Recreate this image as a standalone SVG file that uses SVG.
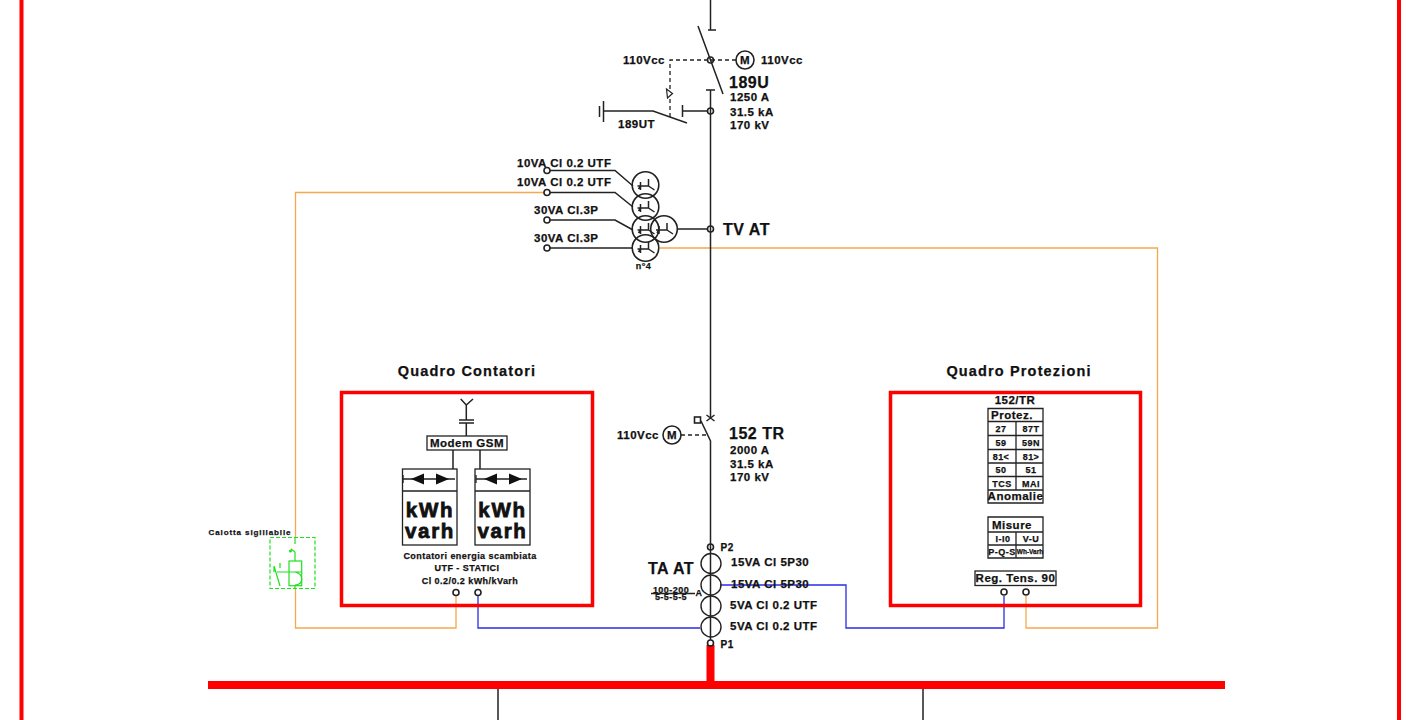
<svg xmlns="http://www.w3.org/2000/svg" width="1409" height="720" viewBox="0 0 1409 720">
<style>
text{font-family:"Liberation Sans",Arial,sans-serif;font-weight:bold;fill:#111;stroke:#111;stroke-width:.25;letter-spacing:.5px}
.m{text-anchor:middle}
.f8{font-size:8px;letter-spacing:.9px}.f9{font-size:9px;letter-spacing:.45px}.f11{font-size:11.5px}.f14{font-size:14.500px;letter-spacing:1.150px}.f16{font-size:16px}
.k{font-size:20.500px;letter-spacing:1.700px;stroke-width:.8}
.l{fill:none;stroke:#222;stroke-width:1.5}
.d{fill:none;stroke:#222;stroke-width:1.3;stroke-dasharray:4 3}
.c{fill:none;stroke:#222;stroke-width:1.6}
.n{fill:none;stroke:#222;stroke-width:1.4}
.t{fill:none;stroke:#222;stroke-width:1.3}
.b{fill:#fff;stroke:#222;stroke-width:1.3}
.o{fill:none;stroke:#f5a84e;stroke-width:1.3}
.u{fill:none;stroke:#2b2be8;stroke-width:1.3}
.r{fill:none;stroke:#f00;stroke-width:3.5}
.g{fill:none;stroke:#1fe01f;stroke-width:1.2}
</style>
<defs>
<path id="star" class="l" d="M-8 1H3M-5 -3V5M-5 1L-7 4M3 1V-6M3 1L9 5"/>
</defs>
<g id="frame"><path d="M21.500 0V720M1399 0V720" fill="none" stroke="#f00" stroke-width="4"/></g>
<g id="connectors">
<path class="o" d="M544 192.500H295.500V537M295.500 589V628H456V596M660 248H1157.500V628H1026V596"/>
<path class="u" d="M478 596V628H700M720 585H846V628H1004V596"/>
<path class="l" d="M710.500 0V30M708 30H716M710.500 90V417M706 90H715M710.500 448V640M707 111H683M682.500 105V117M677 229H707"/>
<path class="l" d="M698 26L723 94M604 111H653L687 123M603.500 101V122M599.500 106V117"/>
<path class="d" d="M670 117V60H736"/>
<path class="l" d="M550 170.500H615L633 186M550 192.500H615L633 207M550 220H615L633 230M550 248H632"/>
<path class="l" d="M701 421L710.500 441V448M706.500 415L714.500 421M714.500 415L706.500 421"/>
<path class="d" d="M681 435H706"/>
<path class="l" d="M498 689V720M923 689V720"/>
<path class="l" d="M466.300 405L460.700 399M466.300 405L473 399M466.300 405V420M459 420H474M459 423H474M466.300 423V436M453 450V469M480 450V469"/>
</g>
<g id="busbar"><path d="M208 685H1225M710.500 645V685" fill="none" stroke="#f00" stroke-width="8"/></g>
<g id="sw189U">
<circle class="c" cx="710.500" cy="60" r="3"/><circle class="c" cx="710.500" cy="111" r="3"/>
<path d="M666.500 89L672.500 93.500L667.500 98Z" fill="#fff" stroke="#222" stroke-width="1.2"/>
<circle class="c" cx="745" cy="60" r="9"/><text class="f11 m" x="745" y="64">M</text>
<text class="f11" x="623" y="63.500">110Vcc</text><text class="f11" x="761" y="63.500">110Vcc</text>
<text class="f16" x="729" y="87.500">189U</text>
<text class="f11" x="730" y="101">1250 A</text><text class="f11" x="730" y="116">31.5 kA</text><text class="f11" x="730" y="129">170 kV</text>
<text class="f11" x="618" y="128">189UT</text>
</g>
<g id="tvat">
<circle class="c" cx="645.500" cy="185" r="13.300"/><use href="#star" x="645.500" y="185"/>
<circle class="c" cx="645.500" cy="207" r="13.300"/><use href="#star" x="645.500" y="207"/>
<circle class="c" cx="645.500" cy="229" r="13.300"/><use href="#star" x="645.500" y="229"/>
<circle class="c" cx="664" cy="229" r="13.300"/><use href="#star" x="664" y="229"/>
<circle class="c" cx="645.500" cy="248" r="13.300"/><use href="#star" x="645.500" y="248"/>
<circle class="c" cx="547" cy="170.500" r="3"/><circle class="c" cx="547" cy="192.500" r="3"/><circle class="c" cx="547" cy="220" r="3"/><circle class="c" cx="547" cy="248" r="3"/>
<circle class="c" cx="710.500" cy="229" r="3"/>
<text class="f11" x="517" y="167">10VA Cl 0.2 UTF</text><text class="f11" x="517" y="186">10VA Cl 0.2 UTF</text>
<text class="f11" x="534" y="214">30VA Cl.3P</text><text class="f11" x="534" y="242">30VA Cl.3P</text>
<text class="f9 m" x="643.500" y="269">n°4</text>
<text class="f16" x="723" y="235">TV AT</text>
</g>
<g id="sw152TR">
<rect class="c" x="694.500" y="417" width="6" height="6"/>
<circle class="c" cx="672" cy="435" r="9"/><text class="f11 m" x="672" y="439">M</text>
<text class="f11" x="617" y="439">110Vcc</text>
<text class="f16" x="729" y="439">152 TR</text>
<text class="f11" x="730" y="454">2000 A</text><text class="f11" x="730" y="468">31.5 kA</text><text class="f11" x="730" y="481">170 kV</text>
</g>
<g id="taat">
<circle class="c" cx="710.500" cy="547" r="3"/><circle class="c" cx="710.500" cy="643" r="3"/>
<circle class="n" cx="711" cy="563.500" r="10"/><circle class="n" cx="711" cy="585" r="10"/><circle class="n" cx="711" cy="606" r="10"/><circle class="n" cx="711" cy="627" r="10"/>
<text x="720.500" y="550.500" style="font-size:10px">P2</text><text x="720.500" y="647.500" style="font-size:10px">P1</text>
<text class="f16" x="648" y="574">TA AT</text>
<text class="f9 m" x="671" y="592.500">100-200</text><text class="f9 m" x="671" y="600">5-5-5-5</text>
<path class="t" d="M651 593.500H695"/><text class="f9" x="695.500" y="596">A</text>
<text class="f11" x="731" y="566">15VA Cl 5P30</text><text class="f11" x="731" y="587.500">15VA Cl 5P30</text>
<text class="f11" x="730" y="608.500">5VA Cl 0.2 UTF</text><text class="f11" x="730" y="630">5VA Cl 0.2 UTF</text>
</g>
<g id="quadro-contatori">
<rect class="r" x="341.500" y="392.500" width="251" height="213"/>
<text class="f14 m" x="467" y="376">Quadro Contatori</text>
<rect class="b" x="427" y="436" width="80" height="14"/><text class="f11 m" x="467" y="447">Modem GSM</text>
<rect class="t" x="402.500" y="469" width="54.500" height="76"/><path class="t" d="M402.500 491H457M403 475V483M403 479H455"/>
<path d="M411 479L424 473.500V484.500ZM449 479L436 473.500V484.500Z" fill="#111"/>
<text class="m k" x="430" y="517">kWh</text><text class="m k" x="430" y="538">varh</text>
<rect class="t" x="475" y="469" width="55" height="76"/><path class="t" d="M475 491H530M476 475V483M476 479H527"/>
<path d="M484 479L497 473.500V484.500ZM522 479L509 473.500V484.500Z" fill="#111"/>
<text class="m k" x="502.500" y="517">kWh</text><text class="m k" x="502.500" y="538">varh</text>
<text class="f9 m" x="470" y="559">Contatori energia scambiata</text><text class="f9 m" x="467" y="571">UTF - STATICI</text><text class="f9 m" x="470" y="583.500">Cl 0.2/0.2 kWh/kVarh</text>
<circle class="c" cx="456" cy="592.500" r="3"/><circle class="c" cx="478" cy="592.500" r="3"/>
</g>
<g id="quadro-protezioni">
<rect class="r" x="890.500" y="392.500" width="250" height="213"/>
<text class="f14 m" x="1019" y="376">Quadro Protezioni</text>
<text class="f11 m" x="1015" y="404">152/TR</text>
<path class="t" d="M988 408.500H1043V503H988ZM988 421.500H1043M988 435.500H1043M988 449.500H1043M988 463H1043M988 476.500H1043M988 490H1043M1016 421.500V490"/>
<text class="f11 m" x="1012" y="419">Protez.</text>
<text class="f9 m" x="1001" y="432">27</text><text class="f9 m" x="1031" y="432">87T</text>
<text class="f9 m" x="1001" y="446">59</text><text class="f9 m" x="1031" y="446">59N</text>
<text class="f9 m" x="1001" y="460">81&lt;</text><text class="f9 m" x="1031" y="460">81&gt;</text>
<text class="f9 m" x="1001" y="473">50</text><text class="f9 m" x="1031" y="473">51</text>
<text class="f9 m" x="1002" y="487">TCS</text><text class="f9 m" x="1031" y="487">MAI</text>
<text class="f11 m" x="1015.500" y="500">Anomalie</text>
<path class="t" d="M988 517H1043V558H988ZM988 532H1043M988 545H1043M1016 532V558"/>
<text class="f11 m" x="1012" y="528.500">Misure</text>
<text class="f9 m" x="1003" y="541.500">I-I0</text><text class="f9 m" x="1031" y="541.500">V-U</text>
<text class="f9 m" x="1002" y="554.500">P-Q-S</text><text class="m" style="font-size:6.500px;letter-spacing:0" x="1030" y="554">Wh-Varh</text>
<rect class="b" x="975" y="571" width="81" height="14.500"/><text class="f11 m" x="1015.500" y="582">Reg. Tens. 90</text>
<circle class="c" cx="1004" cy="592" r="3"/><circle class="c" cx="1026" cy="592" r="3"/>
</g>
<g id="calotta">
<text class="f8 m" x="250" y="534.500">Calotta sigillabile</text>
<rect x="270" y="537.500" width="45" height="51" fill="none" stroke="#1fe01f" stroke-width="1.2" stroke-dasharray="4 2"/>
<rect class="g" x="289" y="561" width="12.700" height="24.700"/>
<path class="g" d="M295 537V544M295 552L291 549M295 552V561M295 585.700V589M289 572H301.700M295 572C304 574 304 584 295 585M274 566L280 586M274 566V572M280 563V568M277 572H289"/>
<circle cx="290.500" cy="551" r="1.500" fill="#1fe01f"/>
</g>
</svg>
